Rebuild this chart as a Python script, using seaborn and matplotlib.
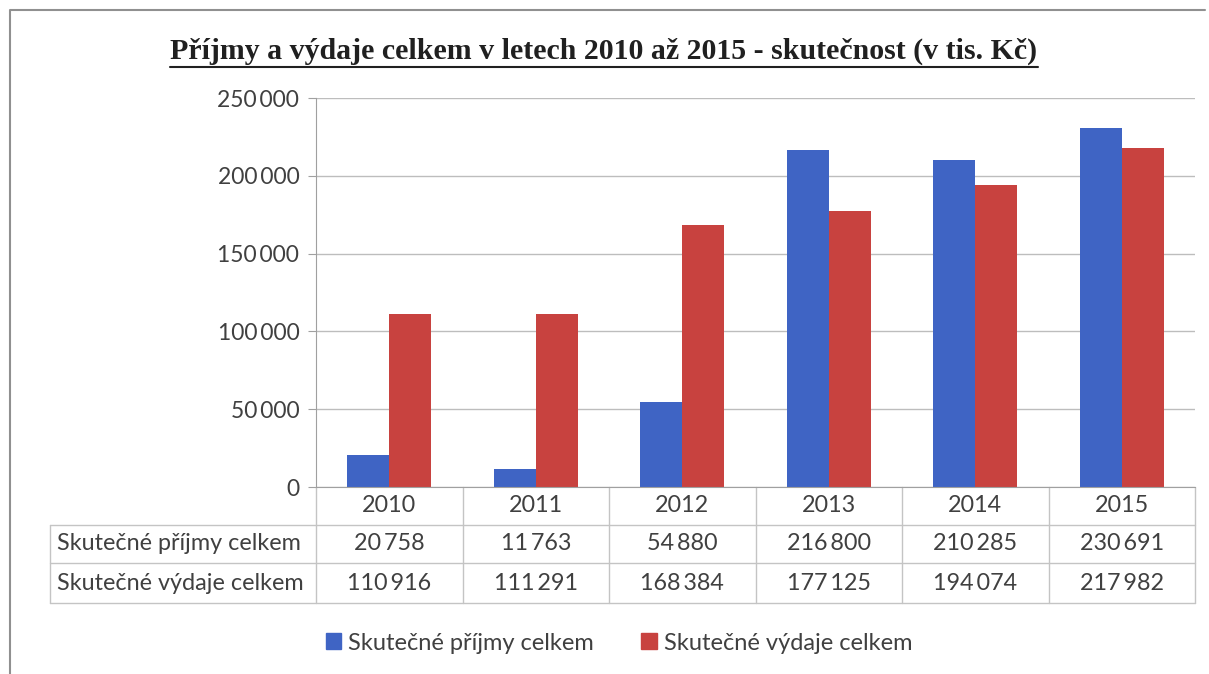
import pandas as pd
import matplotlib.pyplot as plt
import matplotlib.transforms as mtransforms
from matplotlib.lines import Line2D
from matplotlib.patches import Patch
import seaborn as sns

# Data (v tis. Kc)
roky = ["2010", "2011", "2012", "2013", "2014", "2015"]
prijmy = [20758, 11763, 54880, 216800, 210285, 230691]
vydaje = [110916, 111291, 168384, 177125, 194074, 217982]
serie = ["Skutečné příjmy celkem", "Skutečné výdaje celkem"]
barvy = ["#3F64C4", "#C8423F"]

df = pd.DataFrame({
    "Rok": roky * 2,
    "Řada": [serie[0]] * len(roky) + [serie[1]] * len(roky),
    "Hodnota": prijmy + vydaje,
})


def fmt(v):
    return f"{v:,.0f}".replace(",", "\u2009")


sns.set_style("white")
plt.rcParams["font.family"] = ["Lato", "DejaVu Sans"]

fig = plt.figure(figsize=(12.09, 6.74), dpi=100)
W, H = 1209, 674
# plot area in pixels: x 316..1195, y 98..487
ax = fig.add_axes([316 / W, 1 - 487 / H, 879 / W, 389 / H])

sns.barplot(data=df, x="Rok", y="Hodnota", hue="Řada", palette=barvy,
            width=0.57, saturation=1, linewidth=0, legend=False, ax=ax)

ax.set_ylim(0, 250000)
ax.set_yticks(range(0, 250001, 50000))
ax.yaxis.set_major_formatter(plt.FuncFormatter(lambda v, p: fmt(v)))
ax.tick_params(axis="y", labelsize=16.5, labelcolor="#404040", length=6,
               left=True, direction="out", pad=6, color="#A0A0A0")
ax.set_xticks([])
ax.set_xlabel("")
ax.set_ylabel("")
ax.yaxis.grid(True, color="#BDBDBD", lw=1)
ax.set_axisbelow(True)
for s in ["top", "right"]:
    ax.spines[s].set_visible(False)
ax.spines["left"].set_color("#A0A0A0")
ax.spines["bottom"].set_color("#A0A0A0")

# Datova tabulka pod grafem
h_px = 389
r1 = -38 / h_px
r2 = -76 / h_px
r3 = -116 / h_px
xl = (50 - 316) / 879
tc = "#C4C4C4"
fs = 16.8
lines = [
    ([xl, 1], [r1, r1]), ([xl, 1], [r2, r2]), ([xl, 1], [r3, r3]),
    ([xl, xl], [r1, r3]), ([1, 1], [0, r3]),
]
for i in range(6):
    lines.append(([i / 6, i / 6], [0, r3]))
for xs, ys in lines:
    ax.add_line(Line2D(xs, ys, transform=ax.transAxes, color=tc, lw=1,
                       clip_on=False))

trans = mtransforms.blended_transform_factory(ax.transData, ax.transAxes)
for i, rok in enumerate(roky):
    ax.text(i, (0 + r1) / 2, rok, transform=trans, ha="center", va="center",
            fontsize=fs, color="#404040")
    ax.text(i, (r1 + r2) / 2, fmt(prijmy[i]), transform=trans, ha="center",
            va="center", fontsize=fs, color="#404040")
    ax.text(i, (r2 + r3) / 2, fmt(vydaje[i]), transform=trans, ha="center",
            va="center", fontsize=fs, color="#404040")
ax.text(xl + 0.008, (r1 + r2) / 2, serie[0], transform=ax.transAxes,
        ha="left", va="center", fontsize=fs, color="#404040")
ax.text(xl + 0.008, (r2 + r3) / 2, serie[1], transform=ax.transAxes,
        ha="left", va="center", fontsize=fs, color="#404040")

# Nadpis (podtrzeny)
title = fig.text(604 / W, 1 - 51 / H,
                 "Příjmy a výdaje celkem v letech 2010 až 2015 - skutečnost (v tis. Kč)",
                 ha="center", va="center", fontsize=21.5, fontweight="bold",
                 family=["Liberation Serif", "DejaVu Serif"], color="#202020")
fig.canvas.draw()
bb = title.get_window_extent().transformed(fig.transFigure.inverted())
fig.add_artist(Line2D([bb.x0, bb.x1], [bb.y0 - 0.003, bb.y0 - 0.003],
                      transform=fig.transFigure, color="#202020", lw=1.5))

# Legenda
handles = [Patch(color=c, label=s) for c, s in zip(barvy, serie)]
fig.legend(handles=handles, loc="center", bbox_to_anchor=(619 / W, 1 - 643 / H),
           ncol=2, frameon=False, fontsize=17, handlelength=0.65,
           handleheight=0.65, handletextpad=0.3, columnspacing=2.0,
           labelcolor="#404040")

# Ramecek kolem grafu
fig.add_artist(Line2D([10 / W, 10 / W, 1 - 4 / W], [0, 1 - 10 / H, 1 - 10 / H],
                      transform=fig.transFigure, color="#909090", lw=1.5))

fig.savefig("out.png", dpi=100)
